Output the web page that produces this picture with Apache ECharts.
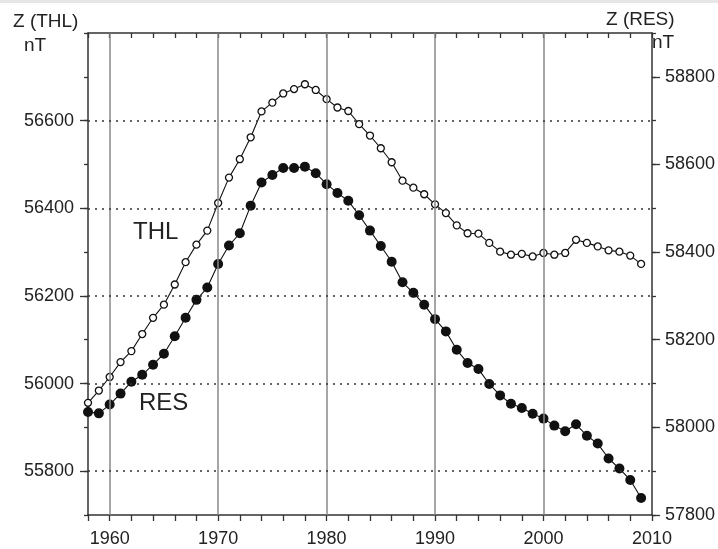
<!DOCTYPE html>
<html>
<head>
<meta charset="utf-8">
<script src="https://cdn.jsdelivr.net/npm/echarts@6/dist/echarts.min.js"></script>
<style>
html,body{margin:0;padding:0;background:#fff;}
#chart{width:718px;height:549px;}
</style>
</head>
<body>
<div id="chart"></div>
<script>
// ---- data ----
const years = [1958,1959,1960,1961,1962,1963,1964,1965,1966,1967,1968,1969,1970,1971,1972,1973,1974,1975,1976,1977,1978,1979,1980,1981,1982,1983,1984,1985,1986,1987,1988,1989,1990,1991,1992,1993,1994,1995,1996,1997,1998,1999,2000,2001,2002,2003,2004,2005,2006,2007,2008,2009];
const thl = [55956,55984,56015,56049,56074,56113,56150,56180,56226,56277,56317,56349,56412,56470,56512,56562,56621,56641,56662,56672,56683,56670,56649,56630,56622,56592,56566,56537,56505,56463,56447,56432,56409,56389,56361,56343,56342,56321,56301,56294,56296,56290,56298,56294,56298,56328,56321,56313,56304,56301,56292,56273];
const res = [58035,58032,58052,58077,58104,58120,58143,58168,58208,58250,58291,58319,58373,58415,58443,58506,58559,58576,58592,58592,58595,58580,58555,58535,58517,58484,58449,58414,58378,58331,58307,58280,58247,58219,58177,58147,58133,58099,58073,58054,58044,58031,58020,58004,57991,58007,57981,57963,57929,57906,57880,57839];
const xTickLabels = [1960,1970,1980,1990,2000,2010];
const decadeLines = [1960,1970,1980,1990,2000];
const leftTicks = [55800,56000,56200,56400,56600];
const rightTicks = [57800,58000,58200,58400,58600,58800];

const FONT = '"Liberation Sans", Arial, sans-serif';
const chart = echarts.init(document.getElementById('chart'));
const axisLine = {show:true, lineStyle:{color:'#333', width:1.5}};
const plain = v => String(v);

const option = {
  animation:false,
  backgroundColor:'#fff',
  grid:{left:88, right:66, top:33, bottom:34},
  xAxis:[
    {type:'value', position:'bottom', min:1958, max:2010, interval:2,
     axisLine:axisLine,
     axisTick:{show:true, length:6, lineStyle:{color:'#333', width:1.3}},
     axisLabel:{customValues:xTickLabels, formatter:plain, margin:15, fontSize:18, color:'#222', fontFamily:FONT},
     splitLine:{show:false}},
    {type:'value', position:'top', min:1958, max:2010, interval:2,
     axisLine:axisLine,
     axisTick:{show:true, inside:true, length:5, lineStyle:{color:'#333', width:1.3}},
     axisLabel:{show:false}, splitLine:{show:false}}
  ],
  yAxis:[
    {type:'value', position:'left', min:55700, max:56800,
     axisLine:axisLine,
     axisTick:{show:true, customValues:leftTicks, length:8, lineStyle:{color:'#333', width:1.3}},
     axisLabel:{customValues:leftTicks, formatter:plain, margin:14, fontSize:18, color:'#222', fontFamily:FONT},
     splitLine:{show:false}},
    {type:'value', position:'right', min:57800, max:58900,
     axisLine:axisLine,
     axisTick:{show:true, customValues:rightTicks, length:8, lineStyle:{color:'#333', width:1.3}},
     axisLabel:{customValues:rightTicks, formatter:plain, margin:13, fontSize:18, color:'#222', fontFamily:FONT},
     splitLine:{show:false}},
    {type:'value', position:'left', min:55700, max:56800, interval:100,
     axisLine:{show:false},
     axisTick:{show:true, length:4, lineStyle:{color:'#333', width:1.3}},
     axisLabel:{show:false}, splitLine:{show:false}},
    {type:'value', position:'right', min:57800, max:58900, interval:100,
     axisLine:{show:false},
     axisTick:{show:true, length:4, lineStyle:{color:'#333', width:1.3}},
     axisLabel:{show:false}, splitLine:{show:false}}
  ],
  series:[
    {type:'line', xAxisIndex:0, yAxisIndex:0, data:[], z:1, silent:true,
     markLine:{silent:true, symbol:'none', label:{show:false},
       data: decadeLines.map(d=>({xAxis:d, lineStyle:{type:'solid', color:'#888', width:1.5}}))
         .concat(leftTicks.map(v=>({yAxis:v, lineStyle:{type:[2,5], color:'#333', width:1.5}})))
     }},
    {name:'THL', type:'line', xAxisIndex:0, yAxisIndex:0, z:3,
     data: years.map((y,i)=>[y, thl[i]]),
     symbol:'circle', symbolSize:7, showAllSymbol:true,
     lineStyle:{color:'#111', width:1.1},
     itemStyle:{color:'#fff', borderColor:'#111', borderWidth:1.3}},
    {name:'RES', type:'line', xAxisIndex:0, yAxisIndex:1, z:3,
     data: years.map((y,i)=>[y, res[i]]),
     symbol:'circle', symbolSize:10, showAllSymbol:true,
     lineStyle:{color:'#111', width:1.1},
     itemStyle:{color:'#111', borderColor:'#111', borderWidth:0}}
  ],
  graphic:[
    {type:'rect', shape:{x:0,y:0,width:718,height:3}, style:{fill:'#e6e6e6'}, silent:true},
    {type:'text', left:13, top:12, style:{text:'Z (THL)', font:'19px '+FONT, fill:'#222'}},
    {type:'text', left:24, top:36, style:{text:'nT', font:'19px '+FONT, fill:'#222'}},
    {type:'text', left:606, top:10, style:{text:'Z (RES)', font:'19px '+FONT, fill:'#222'}},
    {type:'text', left:652, top:33, style:{text:'nT', font:'19px '+FONT, fill:'#222'}},
    {type:'text', left:133, top:220, style:{text:'THL', font:'24px '+FONT, fill:'#222'}},
    {type:'text', left:139, top:391, style:{text:'RES', font:'24px '+FONT, fill:'#222'}}
  ]
};
chart.setOption(option);
</script>
</body>
</html>
